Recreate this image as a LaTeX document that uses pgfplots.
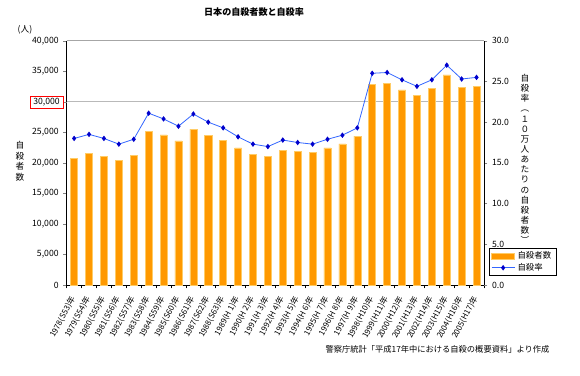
\documentclass[border=0pt]{standalone}
\usepackage{fontspec}
\setmainfont{Noto Sans CJK JP}
\usepackage{pgfplots}
\pgfplotsset{compat=1.18}
\definecolor{barfill}{HTML}{FF9900}
\definecolor{baredge}{HTML}{FFCC66}
\definecolor{lineblue}{HTML}{3366FF}
\definecolor{markblue}{HTML}{0000CC}
\begin{document}
\begin{tikzpicture}[x=0.75pt,y=0.75pt]
\path[use as bounding box] (0,0) rectangle (580,375);
\begin{axis}[
  at={(50.0pt,67.5pt)}, anchor=south west, scale only axis,
  width=313pt, height=183.2pt,
  xmin=-0.5, xmax=27.5, ymin=0, ymax=40000,
  axis x line*=bottom, axis y line*=left,
  axis line style={black, line width=0.6pt},
  tick align=outside, major tick length=2.5pt,
  scaled y ticks=false,
  xtick={0,...,27},
  xtick style={draw=none},
  xticklabels={1978(S53)年,1979(S54)年,1980(S55)年,1981(S56)年,1982(S57)年,1983(S58)年,1984(S59)年,1985(S60)年,1986(S61)年,1987(S62)年,1988(S63)年,1989(H 1)年,1990(H 2)年,1991(H 3)年,1992(H 4)年,1993(H 5)年,1994(H 6)年,1995(H 7)年,1996(H 8)年,1997(H 9)年,1998(H10)年,1999(H11)年,2000(H12)年,2001(H13)年,2002(H14)年,2003(H15)年,2004(H16)年,2005(H17)年},
  xticklabel style={rotate=62, anchor=east, font=\fontsize{6.0}{7}\selectfont, inner sep=1pt, xshift=-5pt, yshift=-2.5pt},
  extra x ticks={-0.5,0.5,...,27.5},
  extra x tick labels={},
  extra x tick style={xtick style={draw=black, line width=0.5pt}, major tick length=2.5pt, tick align=outside},
  ytick={0,5000,10000,15000,20000,25000,35000,40000},
  extra y ticks={30000},
  extra y tick style={grid=major, major grid style={gray!55, line width=0.7pt}, yticklabel style={draw=red, inner xsep=2.5pt, inner ysep=1.5pt}},
  yticklabel style={font=\fontsize{6.5}{7}\selectfont},
  /pgf/number format/.cd, 1000 sep={,}, assume math mode=true,
]
\addplot[ybar, bar width=5.3pt, fill=barfill, draw=baredge, line width=0.4pt] coordinates {
(0,20788) (1,21503) (2,21048) (3,20434) (4,21228) (5,25202) (6,24596)
(7,23599) (8,25524) (9,24460) (10,23742) (11,22436) (12,21346) (13,21084)
(14,22104) (15,21851) (16,21679) (17,22445) (18,23104) (19,24391) (20,32863)
(21,33048) (22,31957) (23,31042) (24,32143) (25,34427) (26,32325) (27,32552)};
\draw[gray!70, line width=0.6pt] (rel axis cs:0,1) -- (rel axis cs:1,1);
\end{axis}
\begin{axis}[
  at={(50.0pt,67.5pt)}, anchor=south west, scale only axis,
  width=313pt, height=183.2pt,
  xmin=-0.5, xmax=27.5, ymin=0, ymax=30,
  axis x line=none, axis y line*=right,
  axis line style={black, line width=0.6pt},
  tick align=outside, major tick length=2.5pt,
  ytick={0,5,10,15,20,25,30},
  yticklabel style={font=\fontsize{6.5}{7}\selectfont, /pgf/number format/.cd, fixed, fixed zerofill, precision=1, assume math mode=true},
  legend style={at={(1.012,0.037)}, anchor=south west, draw=black, line width=0.5pt, font=\fontsize{6.3}{7}\selectfont, inner xsep=1.5pt, inner ysep=0.5pt, row sep=-2pt, fill=white},
  legend cell align=left,
]
\addlegendimage{legend image code/.code={\draw[fill=barfill, draw=baredge] (0cm,-2.2pt) rectangle (0.6cm,2.2pt);}}
\addlegendentry{自殺者数}
\addplot[lineblue, line width=0.6pt, mark=diamond*, mark size=1.6pt, mark options={fill=markblue, draw=markblue}] coordinates {
(0,18.0) (1,18.5) (2,18.0) (3,17.3) (4,17.9) (5,21.1) (6,20.4)
(7,19.5) (8,21.0) (9,20.0) (10,19.3) (11,18.2) (12,17.3) (13,17.0)
(14,17.8) (15,17.5) (16,17.3) (17,17.9) (18,18.4) (19,19.3) (20,26.0)
(21,26.1) (22,25.2) (23,24.4) (24,25.2) (25,27.0) (26,25.3) (27,25.5)};
\addlegendentry{自殺率}
\end{axis}
\node[font=\bfseries\fontsize{6.8}{8}\selectfont] at (254,363) {日本の自殺者数と自殺率};
\node[font=\fontsize{6.5}{7}\selectfont] at (25,345) {(人)};
\node[font=\fontsize{6.5}{7.9}\selectfont, align=center, inner sep=0pt] at (20,214) {自\\殺\\者\\数};
\node[font=\fontsize{6.5}{7.6}\selectfont, align=center, inner sep=0pt] at (525,216) {自\\殺\\率\\︵\\１\\０\\万\\人\\あ\\た\\り\\の\\自\\殺\\者\\数\\︶};
\node[font=\fontsize{6.2}{7}\selectfont] at (437.5,26) {警察庁統計「平成17年中における自殺の概要資料」より作成};
\end{tikzpicture}
\end{document}
